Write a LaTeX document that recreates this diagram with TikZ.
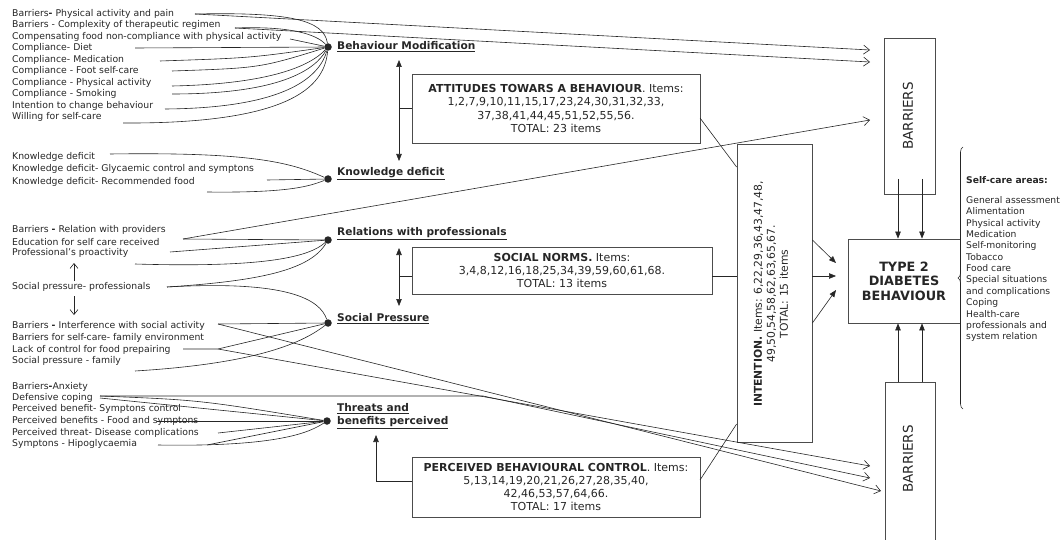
\documentclass[tikz,border=0pt]{standalone}
\usepackage{fontspec}
\setmainfont{DejaVu Sans}
\usetikzlibrary{arrows.meta,decorations.pathreplacing}
\definecolor{txt}{gray}{0.15}
\definecolor{ln}{gray}{0.15}
\definecolor{boxc}{gray}{0.3}
\begin{document}
\begin{tikzpicture}[x=1pt,y=-1pt,
  lt/.style={anchor=west, inner sep=0pt, font=\fontsize{9.3}{11}\selectfont, text=txt},
  lbl/.style={anchor=west, inner sep=0pt, font=\fontsize{10.6}{13}\selectfont\bfseries, text=txt, align=left},
  dotn/.style={circle, fill=ln, inner sep=0pt, minimum size=7.5pt},
  conn/.style={draw=ln, line width=0.6pt},
  bararrow/.style={conn, -{Straight Barb[length=6pt,width=9pt]}},
  farrow/.style={conn, -{Triangle[length=7pt,width=5.5pt]}},
  dfarrow/.style={conn, {Triangle[length=7pt,width=5.5pt]}-{Triangle[length=7pt,width=5.5pt]}},
  boxn/.style={draw=boxc, line width=0.8pt, align=center, inner sep=0pt, text=txt, font=\fontsize{11}{13.3}\selectfont},
  rtext/.style={rotate=90, align=center, inner sep=0pt, text=txt}]
\useasboundingbox (0,0) rectangle (1062,540);

% ---------- left texts ----------
\node[lt] (a1) at (12,13.5) {Barriers\textbf{-} Physical activity and pain};
\node[lt] (a2) at (12,25) {Barriers - Complexity of therapeutic regimen};
\node[lt] (a3) at (12,36.5) {Compensating food non-compliance with physical activity};
\node[lt] (a4) at (12,48) {Compliance- Diet};
\node[lt] (a5) at (12,59.5) {Compliance- Medication};
\node[lt] (a6) at (12,71) {Compliance - Foot self-care};
\node[lt] (a7) at (12,82.5) {Compliance - Physical activity};
\node[lt] (a8) at (12,94) {Compliance - Smoking};
\node[lt] (a9) at (12,105.5) {Intention to change behaviour};
\node[lt] (a10) at (12,117) {Willing for self-care};

\node[lt] (k1) at (12,157) {Knowledge deficit};
\node[lt] (k2) at (12,169) {Knowledge deficit- Glycaemic control and symptons};
\node[lt] (k3) at (12,181.5) {Knowledge deficit- Recommended food};

\node[lt] (r1) at (12,230) {Barriers \textbf{-} Relation with providers};
\node[lt] (r2) at (12,241.7) {Education for self care received};
\node[lt] (r3) at (12,253.3) {Professional’s proactivity};
\node[lt] (spp) at (12,286.7) {Social pressure- professionals};

\node[lt] (s1) at (12,326) {Barriers \textbf{-} Interference with social activity};
\node[lt] (s2) at (12,338.3) {Barriers for self-care- family environment};
\node[lt] (s3) at (12,350) {Lack of control for food prepairing};
\node[lt] (s4) at (12,361) {Social pressure - family};

\node[lt] (t1) at (12,387.3) {Barriers\textbf{-}Anxiety};
\node[lt] (t2) at (12,398.3) {Defensive coping};
\node[lt] (t3) at (12,409.3) {Perceived benefit- Symptons control};
\node[lt] (t4) at (12,420.7) {Perceived benefits - Food and symptons};
\node[lt] (t5) at (12,432.7) {Perceived threat- Disease complications};
\node[lt] (t6) at (12,444.3) {Symptons - Hipoglycaemia};

% ---------- dots and labels ----------
\node[dotn] (bm) at (328,47) {};
\node[lbl] (bml) at (337,47) {\underline{Behaviour Modification}};
\node[dotn] (kd) at (328,179) {};
\node[lbl] (kdl) at (337,174) {\underline{Knowledge deficit}};
\node[dotn] (rp) at (328,240) {};
\node[lbl] (rpl) at (337,234) {\underline{Relations with professionals}};
\node[dotn] (sp) at (328,323) {};
\node[lbl] (spl) at (337,319) {\underline{Social Pressure}};
\node[dotn] (tb) at (327,421) {};
\node[lbl] (tbl) at (337,416) {\underline{Threats and}\\\underline{benefits perceived}};

% ---------- boxes ----------
\node[boxn, minimum width=288pt, minimum height=69pt] (att) at (556,108.5)
  {\textbf{ATTITUDES TOWARS A BEHAVIOUR}. Items:\\1,2,7,9,10,11,15,17,23,24,30,31,32,33,\\37,38,41,44,45,51,52,55,56.\\TOTAL: 23 items};
\node[boxn, minimum width=300pt, minimum height=47pt] (sn) at (562,270.5)
  {\textbf{SOCIAL NORMS.} Items:\\3,4,8,12,16,18,25,34,39,59,60,61,68.\\TOTAL: 13 items};
\node[boxn, minimum width=288pt, minimum height=60pt] (pbc) at (556,487)
  {\textbf{PERCEIVED BEHAVIOURAL CONTROL}. Items:\\5,13,14,19,20,21,26,27,28,35,40,\\42,46,53,57,64,66.\\TOTAL: 17 items};
\node[boxn, minimum width=75pt, minimum height=298pt] (int) at (774.5,293) {};
\node[rtext, font=\fontsize{10.8}{13}\selectfont] (intt) at (771,294)
  {\textbf{INTENTION.} Items: 6,22,29,36,43,47,48,\\49,50,54,58,62,63,65,67.\\TOTAL: 15 items};
\node[boxn, minimum width=112pt, minimum height=84pt, font=\fontsize{12.8}{14.5}\selectfont\bfseries] (t2b) at (904,281)
  {TYPE 2\\DIABETES\\BEHAVIOUR};
\node[boxn, minimum width=51pt, minimum height=156pt] (bar1) at (910,116) {};
\node[rtext, font=\fontsize{13.5}{15}\selectfont] (bar1t) at (908,116) {BARRIERS};
\draw[draw=boxc, line width=0.8pt] (885,541) -- (885,382) -- (935,382) -- (935,541);
\coordinate (bar2) at (910,382);
\node[rtext, font=\fontsize{13.5}{15}\selectfont] (bar2t) at (908,459) {BARRIERS};

% ---------- self-care areas ----------
\draw[draw=ln, line width=0.6pt, decorate, decoration={brace, amplitude=5pt}] (963,409) -- (963,147);
\node[anchor=north west, inner sep=0pt, align=left, text=txt, font=\fontsize{9.2}{11.35}\selectfont] (sca) at (966,176)
  {\textbf{Self-care areas:}\\[9pt]General assessment\\Alimentation\\Physical activity\\Medication\\Self-monitoring\\Tobacco\\Food care\\Special situations\\and complications\\Coping\\Health-care\\professionals and\\system relation};

% ---------- connectors: Behaviour Modification ----------
\coordinate (p1) at (195,14);
\coordinate (p2) at (235,28);
\draw[conn] (p1) .. controls (290,12) and (324,20) .. (bm);
\draw[conn] (p2) .. controls (290,26) and (316,34) .. (bm);
\draw[conn] (290,39) -- (bm);
\draw[conn] (135,48) -- (bm);
\draw[conn] (160,61) .. controls (250,58) .. (bm);
\draw[conn] (172,71) .. controls (260,68) .. (bm);
\draw[conn] (172,86) .. controls (270,84) and (310,66) .. (bm);
\draw[conn] (172,94) .. controls (280,94) and (315,70) .. (bm);
\draw[conn] (165,109) .. controls (290,108) and (320,75) .. (bm);
\draw[conn] (123,123) .. controls (300,124) and (325,82) .. (bm);
\coordinate (ba1) at (870,50);
\coordinate (ba2) at (870,62);
\coordinate (ba3) at (870,120);
\draw[bararrow] (p1) -- (ba1);
\draw[bararrow] (p2) -- (ba2);

% ---------- Knowledge deficit ----------
\draw[conn] (110,154) .. controls (250,152) and (290,162) .. (kd);
\draw[conn] (267,180) -- (kd);
\draw[conn] (207,192) .. controls (290,193) and (310,186) .. (kd);

% ---------- Relations with professionals ----------
\coordinate (p3) at (183,239);
\draw[conn] (p3) -- (rp);
\draw[bararrow] (p3) -- (ba3);
\draw[conn] (170,252) -- (rp);
\draw[conn] (135,264) .. controls (270,268) and (310,256) .. (rp);
\coordinate (p4) at (167,287);
\draw[conn] (p4) .. controls (260,281) and (310,270) .. (rp);
\draw[conn] (p4) .. controls (290,280) and (320,300) .. (sp);
\draw[conn, -{Straight Barb[length=5pt,width=8pt]}] (74,281) -- (74,263);
\draw[conn, -{Straight Barb[length=5pt,width=8pt]}] (74,296) -- (74,315);

% ---------- Social Pressure ----------
\coordinate (p5) at (218,324);
\coordinate (p6) at (218,349);
\coordinate (bb1) at (870,466);
\coordinate (bb2) at (870,478);
\coordinate (bb3) at (881,491);
\draw[conn] (p5) -- (sp);
\draw[bararrow] (p5) -- (bb3);
\draw[conn] (183,349) -- (p6) -- (sp);
\draw[bararrow] (p6) -- (bb1);
\draw[conn] (135,371) .. controls (250,364) and (300,345) .. (sp);

% ---------- Threats and benefits ----------
\coordinate (p7) at (100,396);
\draw[conn] (p7) .. controls (200,400) .. (tb);
\draw[conn] (100,398) -- (tb);
\draw[bararrow] (p7) -- (483,396) -- (bb2);
\draw[conn] (157,421) -- (tb);
\draw[conn] (218,433) -- (tb);
\draw[conn] (158,445) .. controls (280,447) and (310,432) .. (tb);
\draw[conn] (207,445) -- (tb);

% ---------- box links ----------
\draw[dfarrow] (399,60) -- (399,161);
\draw[conn] (399,108.5) -- (att.west);
\draw[dfarrow] (399,248) -- (399,306);
\draw[conn] (399,276) -- (412,276);
\draw[farrow] (pbc.west |- 0,481) -- (376,481) -- (376,435);

\draw[conn] (700,118) -- (int.west |- 0,167);
\draw[conn] (712,276) -- (int.west |- 0,276);
\draw[conn] (700,480) -- (int.west |- 0,424);

\draw[farrow] (int.east |- 0,240) -- (836,263);
\draw[farrow] (int.east |- 0,276) -- (836,276);
\draw[farrow] (int.east |- 0,323) -- (836,290);

\draw[farrow] (898,179) -- (t2b.north -| 898,0);
\draw[farrow] (922,179) -- (t2b.north -| 922,0);
\draw[farrow] (bar2 -| 898,0) -- (t2b.south -| 898,0);
\draw[farrow] (bar2 -| 922,0) -- (t2b.south -| 922,0);
\end{tikzpicture}
\end{document}
